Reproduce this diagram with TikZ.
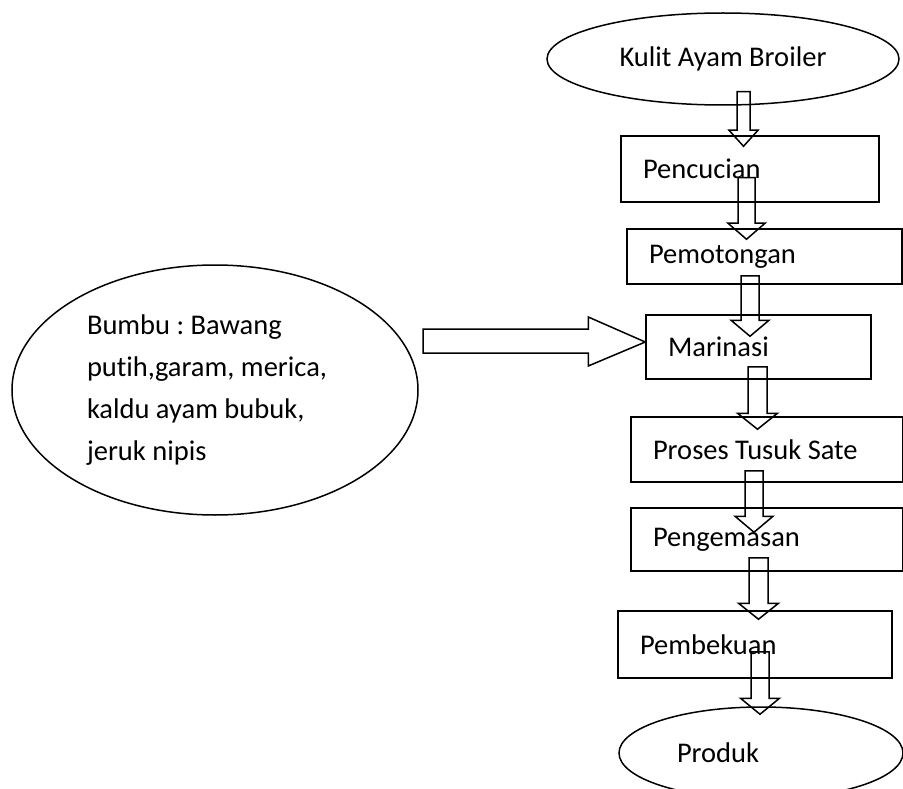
\documentclass[tikz,border=0pt]{standalone}
\usepackage{fontspec}
\setmainfont{Carlito}[Ligatures=NoCommon]
\usetikzlibrary{shapes.geometric,calc}
\frenchspacing

\tikzset{
  kotak/.style={draw, line width=1.5pt, rectangle, align=flush left, inner xsep=22pt, inner ysep=0pt},
  bulat/.style={draw, line width=1.5pt, ellipse, inner sep=0pt},
  garis/.style={line width=1.5pt, line join=miter},
}

% block arrow pointing down: #1 start, #2 tip, #3 half shaft, #4 half head
\newcommand{\panahturun}[4]{%
  \draw[garis] ($(#1)+(-#3,0)$) -- ($(#2)+(-#3,-16)$) -- ($(#2)+(-#4,-16)$) -- (#2)
    -- ($(#2)+(#4,-16)$) -- ($(#2)+(#3,-16)$) -- ($(#1)+(#3,0)$) -- cycle;
}

\begin{document}
\begin{tikzpicture}[x=1pt, y=-1pt, font=\fontsize{28.5}{41.7}\selectfont]
  \useasboundingbox (0,0) rectangle (903,789);
  \clip (0,0) rectangle (903,789);

  % main column
  \node[bulat, minimum width=352pt, minimum height=92pt] (kulit) at (723,59) {Kulit Ayam Broiler};
  \node[kotak, text width=214pt, minimum height=66pt] (cuci) at (750,169) {Pencucian};
  \node[kotak, text width=231pt, minimum height=55pt] (potong) at (764.5,256.5) {Pemotongan};
  \node[kotak, text width=181pt, minimum height=64pt] (marinasi) at (758.5,347) {Marinasi};
  \node[kotak, text width=228pt, minimum height=65pt] (tusuk) at (767,449.5) {Proses Tusuk Sate};
  \node[kotak, text width=228pt, minimum height=63pt] (kemas) at (767,539.5) {Pengemasan};
  \node[kotak, text width=230pt, minimum height=67pt] (beku) at (755,644.5) {Pembekuan};
  \node[bulat, minimum width=284pt, minimum height=92pt, text width=168pt, align=flush left] (produk) at (761,753) {Produk};

  % spices
  \node[bulat, minimum width=406pt, minimum height=250pt, text width=256pt, align=flush left] (bumbu) at (215,390)
    {Bumbu : Bawang\\putih,garam, merica,\\kaldu ayam bubuk,\\jeruk nipis};

  % arrows down the column
  \foreach \dari/\ke/\dx/\dy/\dt/\s/\h [count=\i] in {
      kulit/cuci/20.5/-14/11/6.5/14.5,
      cuci/potong/-3.5/-25/11/8.5/18.5,
      potong/marinasi/-14.5/-9/22/9/19,
      marinasi/tusuk/-1/-13/13/9.5/20,
      tusuk/kemas/-13/-12/25/9/19,
      kemas/beku/-8.5/-14/9/9.5/20,
      beku/produk/5/-27/8/9/19.5}{
    \coordinate (a\i) at ($(\dari.south)+(\dx,\dy)$);
    \coordinate (b\i) at ($(a\i |- \ke.north)+(0,\dt)$);
    \panahturun{a\i}{b\i}{\s}{\h}
  }

  % spices into marinasi
  \coordinate (ekor) at (423,341);
  \coordinate (ujung) at ($(marinasi.west)+(0,-5)$);
  \draw[garis] ($(ekor)+(0,-12)$) -- ($(ekor -| ujung)+(-57,-12)$) -- ($(ujung)+(-57,-25)$) -- (ujung)
    -- ($(ujung)+(-57,24)$) -- ($(ekor -| ujung)+(-57,12)$) -- ($(ekor)+(0,12)$) -- cycle;
\end{tikzpicture}
\end{document}
